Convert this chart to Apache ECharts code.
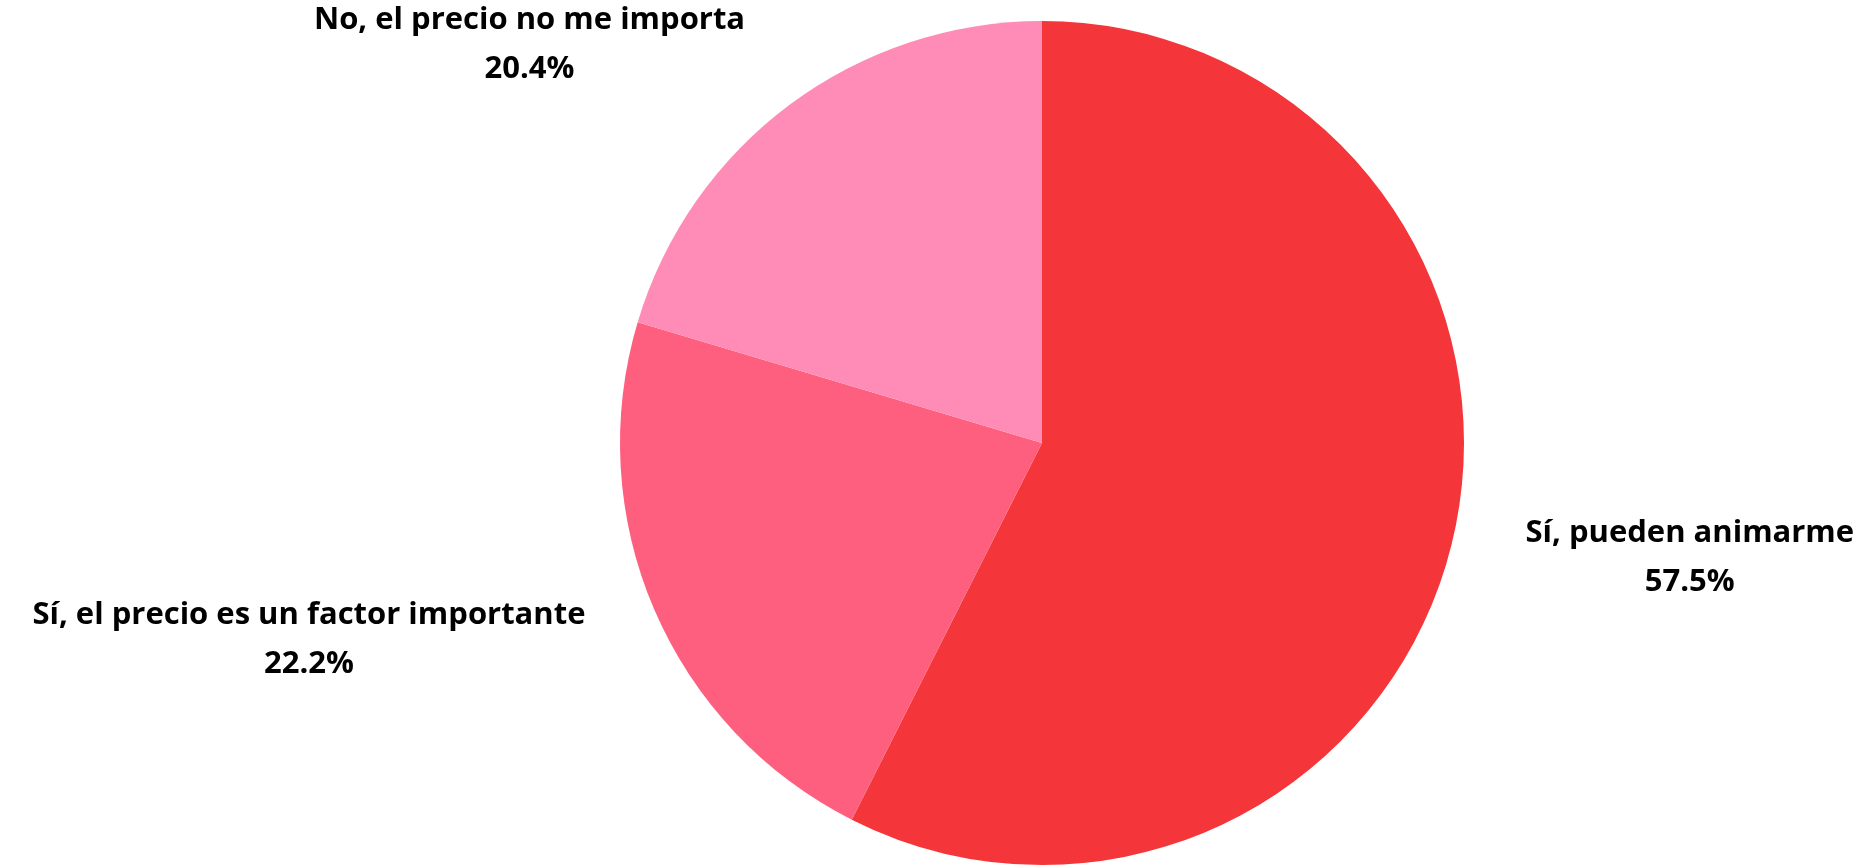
<!DOCTYPE html>
<html>
<head>
<meta charset="utf-8">
<title>Precio</title>
<script src="https://cdn.jsdelivr.net/npm/echarts@6/dist/echarts.min.js"></script>
<style>
  html, body { margin: 0; padding: 0; background: #fff; }
  #chart { width: 1867px; height: 865px; }
</style>
</head>
<body>
<div id="chart"></div>
<script>
// datos de la encuesta
var categories = ['Sí, pueden animarme', 'Sí, el precio es un factor importante', 'No, el precio no me importa']
var values = [57.5, 22.2, 20.4]
var colors = ['#f43539', '#ff5f7e', '#ff8cb6']

var chart = echarts.init(document.getElementById('chart'))

var pieData = categories.map(function (name, i) {
  return { name: name, value: values[i], itemStyle: { color: colors[i] } }
})

var txt = { align: 'center', fontFamily: 'Open Sans', fontWeight: 'bold', fontSize: 31, lineHeight: 49, color: '#000' }

chart.setOption({
  animation: false,
  series: [{
    type: 'pie',
    center: [1042, 443],
    radius: 422,
    startAngle: 90,
    clockwise: true,
    silent: true,
    data: pieData,
    itemStyle: { borderWidth: 0 },
    label: {
      show: true,
      position: 'outside',
      bleedMargin: 0,
      distanceToLabelLine: 0,
      color: '#000',
      fontFamily: 'Open Sans',
      fontWeight: 'bold',
      fontSize: 31,
      formatter: '{n|{b}}\n{p|{c}%}',
      rich: { n: txt, p: txt }
    },
    labelLine: { show: false, length: 75, length2: 0 }
  }]
})
</script>
</body>
</html>
